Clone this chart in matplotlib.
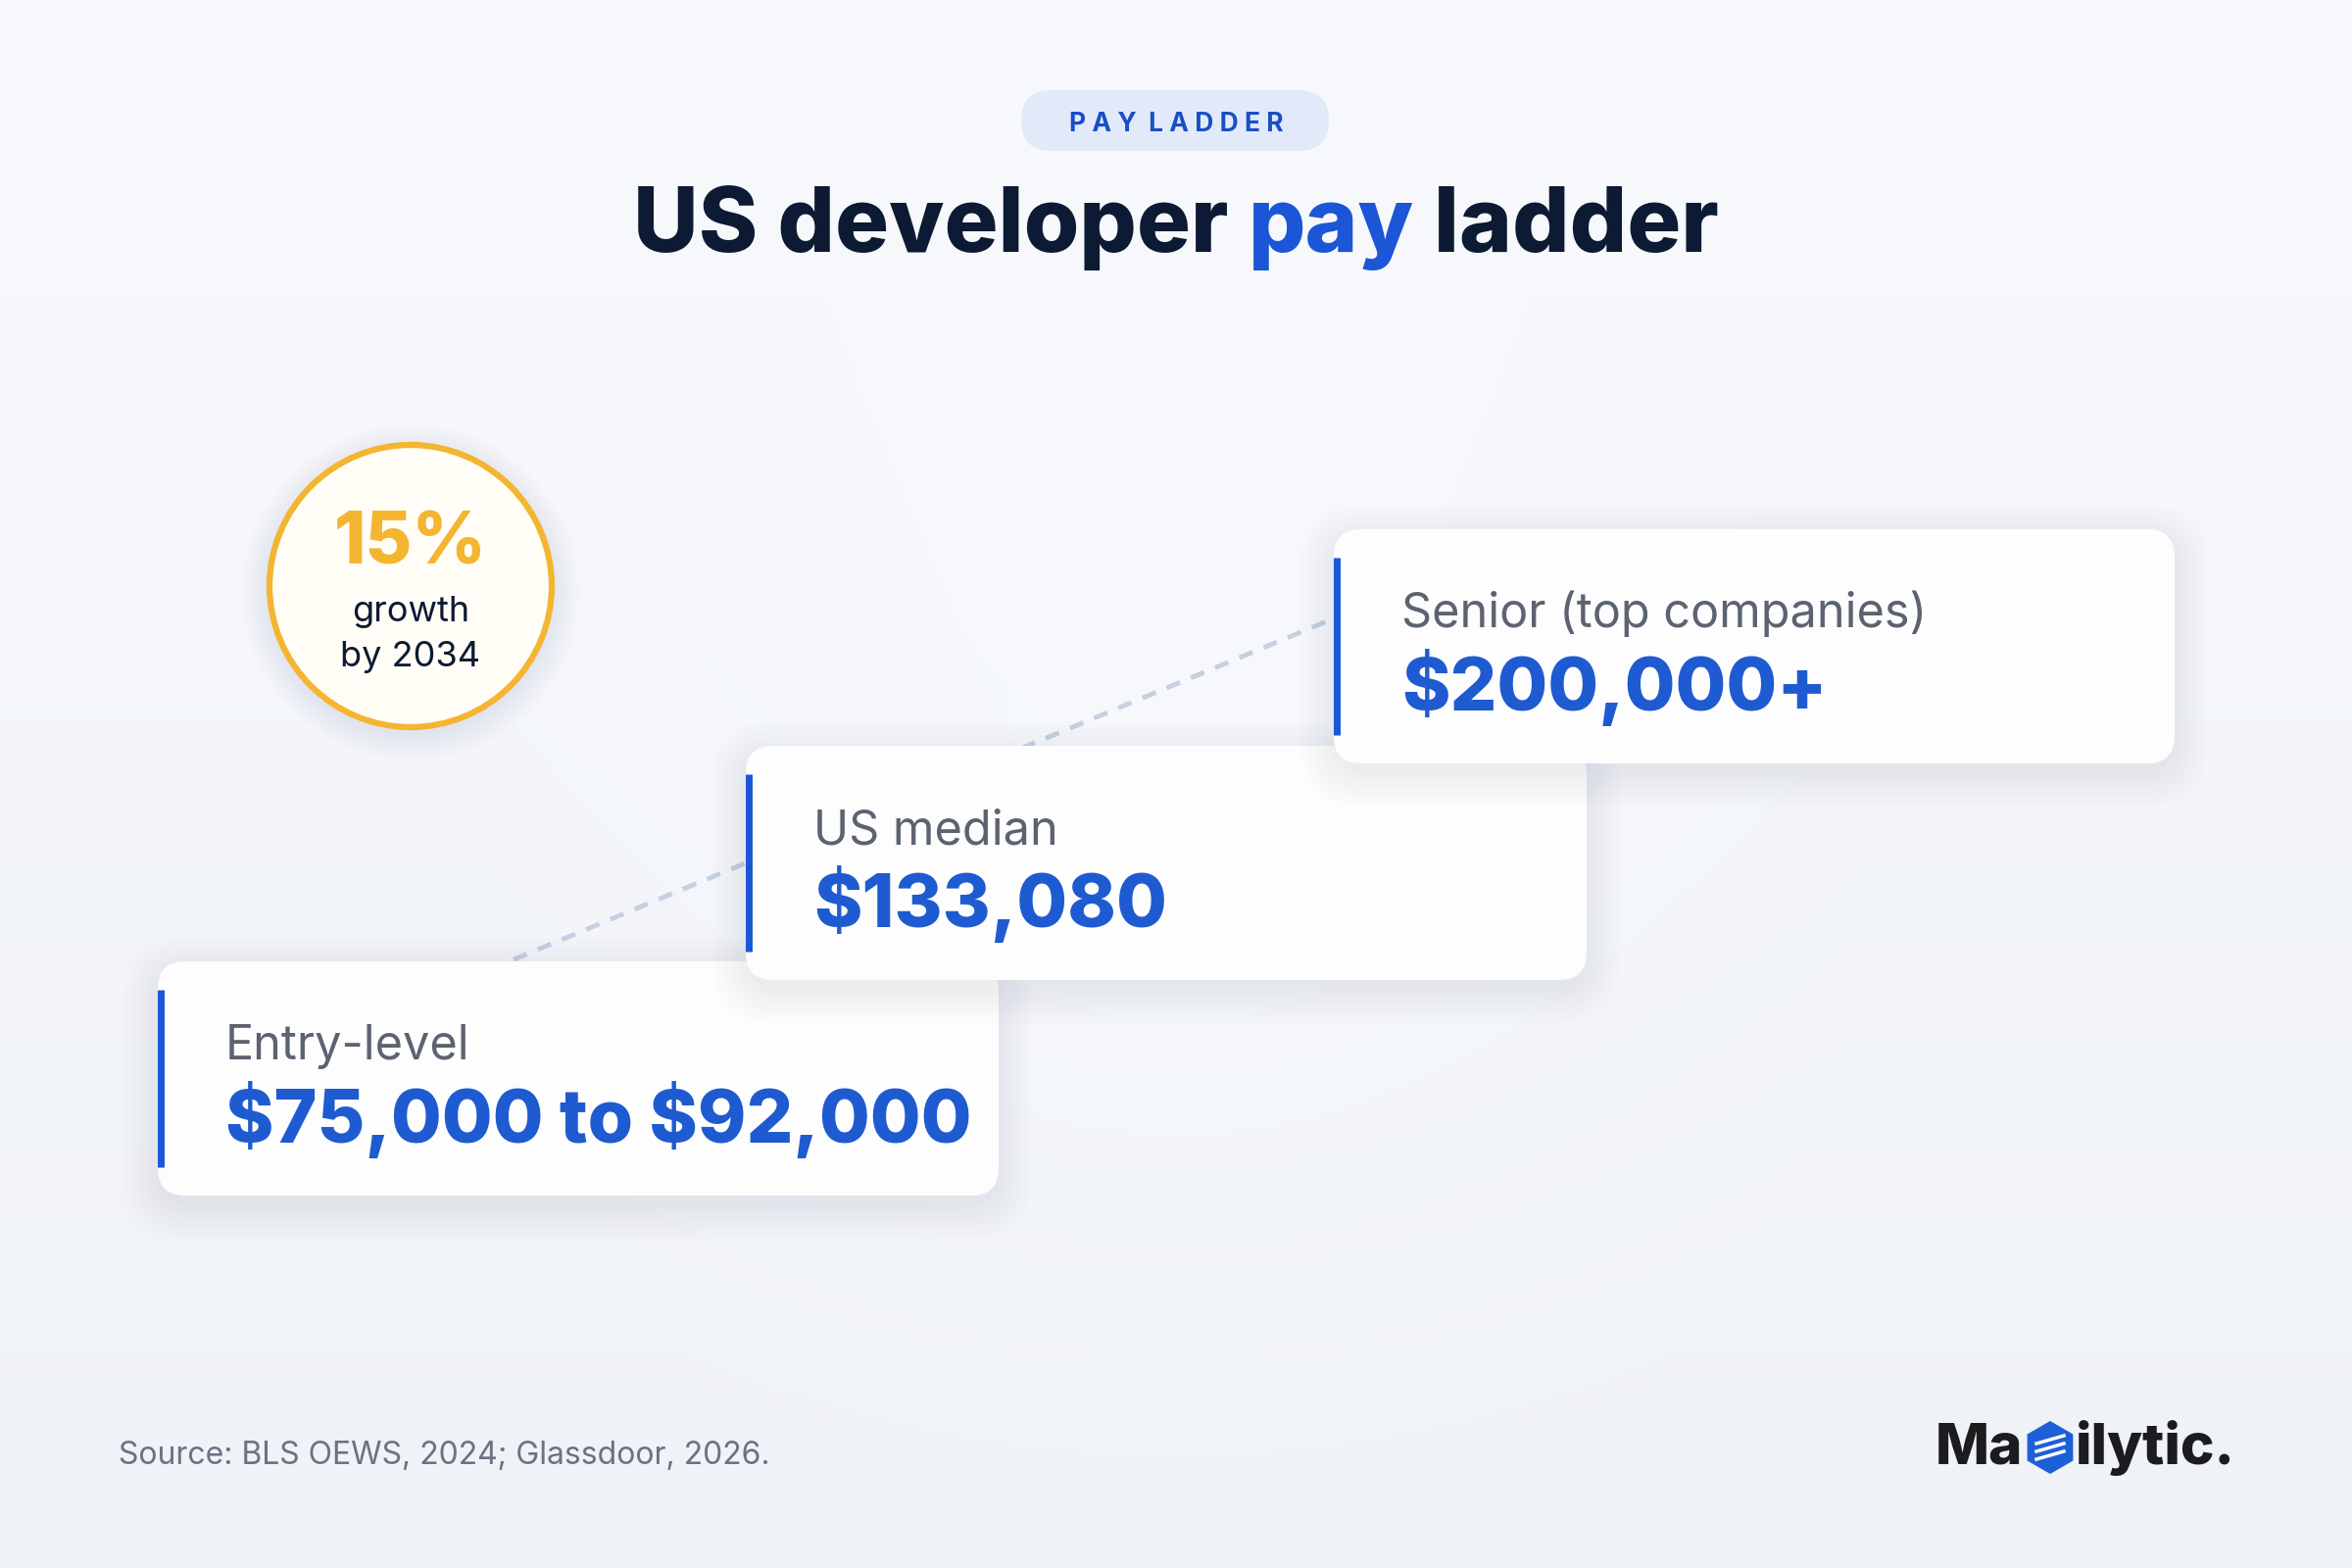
import numpy as np
import matplotlib.pyplot as plt
from matplotlib.patches import FancyBboxPatch, Circle, RegularPolygon

# --- data ---
levels = ["Entry-level", "US median", "Senior (top companies)"]
pay_labels = ["$75,000 to $92,000", "$133,080", "$200,000+"]
growth_pct = "15%"
growth_text = ["growth", "by 2034"]
source = "Source: BLS OEWS, 2024; Glassdoor, 2026."

FONT = "Inter"
NAVY = "#0d1a33"
BLUE = "#1a56d6"
VAL_BLUE = "#1f5bd0"
GRAY = "#5c6370"
GOLD = "#f4b530"

W, H = 2400, 1600
fig = plt.figure(figsize=(24, 16), dpi=100)
ax = fig.add_axes([0, 0, 1, 1])
ax.set_xlim(0, W)
ax.set_ylim(H, 0)
ax.axis("off")

# background: soft vertical gradient + faint radial glow
yy, xx = np.mgrid[0:H:4, 0:W:4]
top = np.array([0.973, 0.978, 0.990])
bot = np.array([0.937, 0.949, 0.969])
t = (yy / H)[..., None]
bg = top * (1 - t) + bot * t
r = np.hypot(xx - 1200, yy - 900) / 700
glow = np.clip(1 - r, 0, 1)[..., None] * 0.012
bg = np.clip(bg + glow, 0, 1)
ax.imshow(bg, extent=(0, W, H, 0), zorder=0, aspect="auto")

renderer = fig.canvas.get_renderer()


def text_width(s, **kw):
    tt = ax.text(0, 0, s, parse_math=False, **kw)
    bb = tt.get_window_extent(renderer=renderer)
    tt.remove()
    return bb.width


# pill
pill = FancyBboxPatch((1042, 92), 314, 62, boxstyle="round,pad=0,rounding_size=31",
                      fc="#e2eafa", ec="none", zorder=2)
ax.add_patch(pill)
ax.text(1200, 127, "P A Y  L A D D E R", fontfamily=FONT, fontsize=19,
        fontweight="bold", color="#1a4fc4", ha="center", va="center", zorder=3)

# title with coloured word
parts = [("US developer ", NAVY), ("pay", BLUE), (" ladder", NAVY)]
tkw = dict(fontfamily=FONT, fontsize=66, fontweight="heavy")
widths = [text_width(p, **tkw) for p, _ in parts]
x0 = 1200 - sum(widths) / 2
for (p, c), w in zip(parts, widths):
    ax.text(x0, 257, p, color=c, ha="left", va="baseline", zorder=3, **tkw)
    x0 += w

# growth badge
for k in range(6):
    ax.add_patch(Circle((419, 604), 146 + k * 5, fc="#1e3a6e", ec="none",
                        alpha=0.010, zorder=1))
ax.add_patch(Circle((419, 598), 144, fc="#fffdf6", ec=GOLD, lw=4.5, zorder=2))
ax.text(419, 575, growth_pct, fontfamily=FONT, fontsize=53, fontweight="heavy",
        color=GOLD, ha="center", va="baseline", zorder=3)
ax.text(419, 634, growth_text[0], fontfamily=FONT, fontsize=26, color=NAVY,
        ha="center", va="baseline", zorder=3)
ax.text(419, 680, growth_text[1], fontfamily=FONT, fontsize=26, color=NAVY,
        ha="center", va="baseline", zorder=3)

# dashed connector behind cards
lx = np.array([450, 1450])
ly = 973 - 0.416 * (lx - 539)
ax.plot(lx, ly, color="#c6d0e0", lw=3.5, ls=(0, (3, 2.5)), zorder=1)

# cards
card_w, card_h = 858, 239
card_x = [161, 761, 1361]
card_y = [981, 761, 540]
for i, (lab, val) in enumerate(zip(levels, pay_labels)):
    cx, cy = card_x[i], card_y[i]
    for k in range(8):
        pad = 4 + k * 5
        ax.add_patch(FancyBboxPatch((cx - pad + 4, cy - pad + 14), card_w + 2 * pad - 8,
                                    card_h + 2 * pad - 8,
                                    boxstyle="round,pad=0,rounding_size=%d" % (28 + pad),
                                    fc="#1e3a6e", ec="none", alpha=0.008, zorder=3 + i * 3))
    ax.add_patch(FancyBboxPatch((cx, cy), card_w, card_h,
                                boxstyle="round,pad=0,rounding_size=28",
                                fc="#fdfdfe", ec="none", zorder=4 + i * 3))
    ax.plot([cx + 3, cx + 3], [cy + 29, cy + card_h - 29], color=BLUE, lw=5,
            solid_capstyle="butt", zorder=5 + i * 3)
    ax.text(cx + 69, cy + 100, lab, fontfamily=FONT, fontsize=35, color=GRAY,
            ha="left", va="baseline", zorder=5 + i * 3, parse_math=False)
    ax.text(cx + 69, cy + 185, val, fontfamily=FONT, fontsize=54, fontweight="heavy",
            color=VAL_BLUE, ha="left", va="baseline", zorder=5 + i * 3, parse_math=False)

# source
ax.text(121, 1494, source, fontfamily=FONT, fontsize=23, color="#6b7280",
        ha="left", va="baseline", zorder=3)

# logo
lkw = dict(fontfamily=FONT, fontsize=42, fontweight="heavy", color="#1c1c1e",
           va="baseline", zorder=3)
ax.text(2281, 1494, "ilytic.", ha="right", **lkw)
w_rest = text_width("ilytic.", **lkw)
icon_x = 2281 - w_rest - 26
ax.add_patch(RegularPolygon((icon_x, 1477), 6, radius=27, fc="#1d5fd6", ec="none", zorder=3))
for dy in (-8, 0, 8):
    ax.plot([icon_x - 14, icon_x + 14], [1477 + dy + 4, 1477 + dy - 4], color="white",
            lw=2.5, zorder=4)
ax.text(icon_x - 28, 1494, "Ma", ha="right", **lkw)

fig.savefig("out.png", dpi=100)
